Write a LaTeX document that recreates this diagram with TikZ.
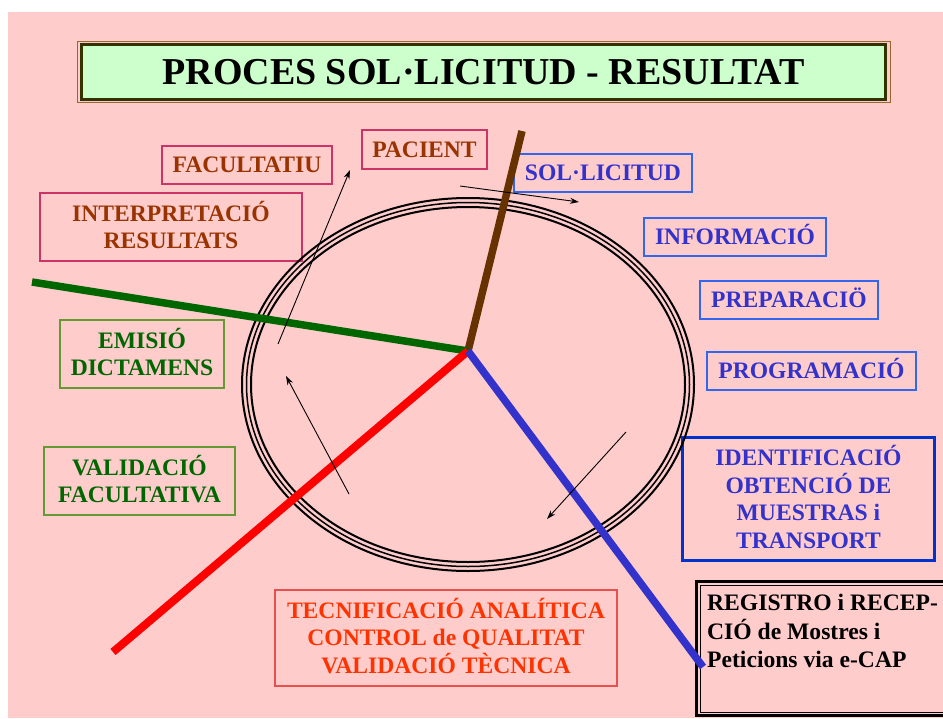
\documentclass[tikz,border=0pt]{standalone}
\usepackage{fontspec}
\setmainfont{Liberation Serif}
\usetikzlibrary{arrows.meta}
\definecolor{bgpink}{HTML}{FFCCCC}
\definecolor{titlefill}{HTML}{CCFFCC}
\definecolor{titledark}{HTML}{333300}
\definecolor{titleline}{HTML}{996633}
\definecolor{browntext}{HTML}{993300}
\definecolor{brownborder}{HTML}{CC3366}
\definecolor{greentext}{HTML}{006600}
\definecolor{greenborder}{HTML}{669933}
\definecolor{bluetext}{HTML}{3333CC}
\definecolor{blueborder}{HTML}{3366EE}
\definecolor{bluethick}{HTML}{0033CC}
\definecolor{redtext}{HTML}{FF3300}
\definecolor{redborder}{HTML}{E85050}
\definecolor{brownline}{HTML}{663300}
\definecolor{greenline}{HTML}{006600}
\definecolor{redline}{HTML}{FF0000}
\definecolor{blueline}{HTML}{3333CC}
\newcommand\capbox[1]{\raisebox{0pt}[0.66em][0pt]{#1}}
\tikzset{
  lbl/.style={draw, line width=1.2pt, inner sep=0pt, outer sep=0pt, align=center,
    font=\fontsize{23.6}{27.5}\selectfont\bfseries},
  brownbox/.style={lbl, draw=brownborder, text=browntext},
  greenbox/.style={lbl, draw=greenborder, text=greentext},
  bluebox/.style={lbl, draw=blueborder, text=bluetext},
  redbox/.style={lbl, draw=redborder, text=redtext},
  ring/.style={line width=2pt, black},
  spoke/.style={line width=7.5pt, line cap=butt},
  flow/.style={line width=0.9pt, black, -{Stealth[length=9pt,width=6pt]}}
}
\begin{document}
\begin{tikzpicture}[x=1pt,y=-1pt]
\useasboundingbox (0,0) rectangle (943,718);
\fill[bgpink] (8,12) rectangle (943,718);

% title
\draw[titleline, line width=1pt] (77,41) rectangle (890,102);
\node[draw=titledark, fill=titlefill, line width=3.5pt, inner sep=0pt, outer sep=0pt,
  minimum width=804pt, minimum height=55pt,
  font=\fontsize{38}{40}\selectfont\bfseries] (title) at (483.5,72)
  {\capbox{PROCES SOL·LICITUD - RESULTAT}};

% label boxes
\node[brownbox, minimum width=170pt, minimum height=38pt] (facultatiu) at (247,165) {\capbox{FACULTATIU}};
\node[brownbox, minimum width=125pt, minimum height=39pt] (pacient) at (424.5,149.5) {\capbox{PACIENT}};
\node[brownbox, minimum width=262pt, minimum height=68pt] (interp) at (171,227) {\capbox{INTERPRETACIÓ}\\\capbox{RESULTATS}};
\node[greenbox, minimum width=164pt, minimum height=68pt] (emisio) at (142,354) {\capbox{EMISIÓ}\\\capbox{DICTAMENS}};
\node[greenbox, minimum width=191pt, minimum height=68pt] (validacio) at (139.5,481) {\capbox{VALIDACIÓ}\\\capbox{FACULTATIVA}};
\node[redbox, minimum width=342pt, minimum height=96pt] (tecnif) at (446,638) {\capbox{TECNIFICACIÓ ANALÍTICA}\\\capbox{CONTROL de QUALITAT}\\\capbox{VALIDACIÓ TÈCNICA}};
\node[bluebox, minimum width=178pt, minimum height=38pt] (sollicitud) at (603,173) {\capbox{SOL·LICITUD}};
\node[bluebox, minimum width=182pt, minimum height=38pt] (informacio) at (735,237) {\capbox{INFORMACIÓ}};
\node[bluebox, minimum width=178pt, minimum height=38pt] (preparacio) at (789,300) {\capbox{PREPARACIÖ}};
\node[bluebox, minimum width=209pt, minimum height=38pt] (programacio) at (811.5,371) {\capbox{PROGRAMACIÓ}};
\node[bluebox, draw=bluethick, line width=3pt, minimum width=252pt, minimum height=123pt] (identif) at (808.5,499)
  {\capbox{IDENTIFICACIÓ}\\\capbox{OBTENCIÓ DE}\\\capbox{MUESTRAS i}\\\capbox{TRANSPORT}};

% registro box (cut by the right edge of the picture)
\coordinate (regnw) at (696.5,581.5);
\coordinate (regsw) at (696.5,715.5);
\coordinate (regne) at (943,581.5);
\coordinate (regse) at (943,715.5);
\draw[black, line width=3pt] (regne) -- (regnw) -- (regsw) -- (regse);
\draw[black, line width=1pt] (943,585.5) -- (700.5,585.5) -- (700.5,712.5) -- (943,712.5);
\node[anchor=north west, inner sep=0pt, align=left, font=\fontsize{23.6}{28.5}\selectfont\bfseries] (registro) at (707,595)
  {\capbox{REGISTRO i RECEP-}\\\capbox{CIÓ de Mostres i}\\\capbox{Peticions via e-CAP}};

% ring
\draw[ring] (468,384.5) ellipse [x radius=226, y radius=186.5];
\draw[ring, line width=1.5pt] (468,384.5) ellipse [x radius=221.5, y radius=182];
\draw[ring] (468,384.5) ellipse [x radius=217, y radius=177.5];

% spokes
\coordinate (hub) at (468,351);
\coordinate (brownend) at (522,131);
\coordinate (greenend) at (32,282);
\coordinate (redend) at (113,652);
\coordinate (blueend) at (703,667);
\draw[spoke, brownline] (hub) -- (brownend);
\draw[spoke, greenline] (hub) -- (greenend);
\draw[spoke, redline, line width=8pt] (hub) -- (redend);
\draw[spoke, blueline] (hub) -- (blueend);

% flow arrows
\coordinate (a1s) at (278,344);
\coordinate (a1e) at (350,170);
\coordinate (a2s) at (460,186);
\coordinate (a2e) at (579,202);
\coordinate (a3s) at (626,432);
\coordinate (a3e) at (547,519);
\coordinate (a4s) at (349,494);
\coordinate (a4e) at (286,376);
\draw[flow] (a1s) -- (a1e);
\draw[flow] (a2s) -- (a2e);
\draw[flow] (a3s) -- (a3e);
\draw[flow] (a4s) -- (a4e);
\end{tikzpicture}
\end{document}
